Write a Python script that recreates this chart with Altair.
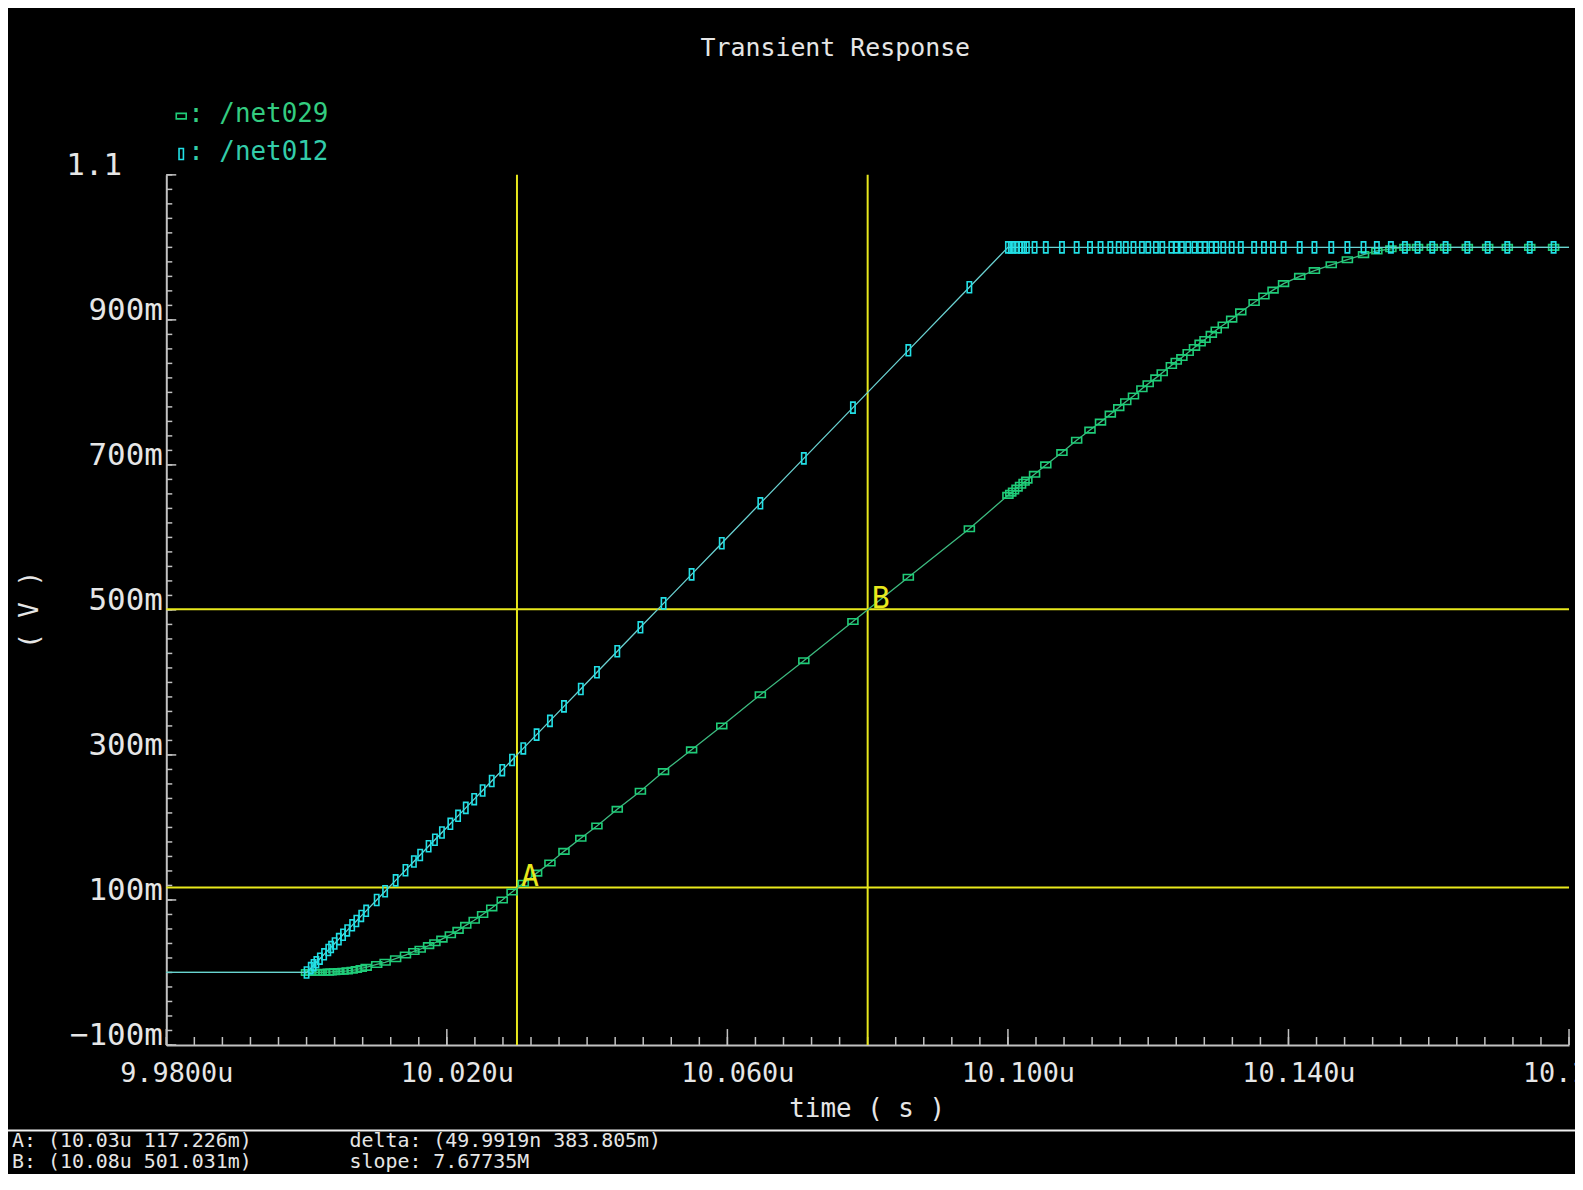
import altair as alt
import pandas as pd

# ---------------- data (time in microseconds, voltages in volts) ----------------
time_us = [
    9.98,
    10.0, 10.0006, 10.001, 10.0014, 10.0019, 10.0025, 10.0031, 10.0035, 10.004, 10.0046,
    10.0052, 10.0058, 10.0065, 10.0071, 10.0078, 10.0085, 10.01, 10.0112, 10.0127, 10.0141,
    10.0153, 10.0162, 10.0174, 10.0183, 10.0193, 10.0205, 10.0216, 10.0227, 10.0239, 10.0251,
    10.0264, 10.0279, 10.0293, 10.0309, 10.0328, 10.0347, 10.0367, 10.0391, 10.0414, 10.0443,
    10.0476, 10.0509, 10.0549, 10.0592, 10.0647, 10.0709, 10.0779, 10.0858, 10.0945, 10.1,
    10.1004, 10.1008, 10.1013, 10.1018, 10.1023, 10.1027, 10.1038, 10.1054, 10.1077, 10.1098,
    10.1117, 10.1132, 10.1146, 10.1158, 10.1168, 10.1179, 10.1191, 10.12, 10.1211, 10.122,
    10.1233, 10.124, 10.1248, 10.1257, 10.1266, 10.1274, 10.1281, 10.129, 10.1297, 10.1307,
    10.1319, 10.1332, 10.1351, 10.1365, 10.1378, 10.1393, 10.1416, 10.1437, 10.1461, 10.1484,
    10.1507, 10.1526, 10.1546, 10.1566, 10.1584, 10.1605, 10.1624, 10.1655, 10.1684, 10.1712,
    10.1744, 10.1778, 10.18,
]

net012 = [
    0.0,
    0.0, 0.006, 0.010, 0.014, 0.019, 0.025, 0.031, 0.035, 0.040, 0.046,
    0.052, 0.058, 0.065, 0.071, 0.078, 0.085, 0.100, 0.112, 0.127, 0.141,
    0.153, 0.162, 0.174, 0.183, 0.193, 0.205, 0.216, 0.227, 0.239, 0.251,
    0.264, 0.279, 0.293, 0.309, 0.328, 0.347, 0.367, 0.391, 0.414, 0.443,
    0.476, 0.509, 0.549, 0.592, 0.647, 0.709, 0.779, 0.858, 0.945, 1.0,
    1.0, 1.0, 1.0, 1.0, 1.0, 1.0, 1.0, 1.0, 1.0, 1.0,
    1.0, 1.0, 1.0, 1.0, 1.0, 1.0, 1.0, 1.0, 1.0, 1.0,
    1.0, 1.0, 1.0, 1.0, 1.0, 1.0, 1.0, 1.0, 1.0, 1.0,
    1.0, 1.0, 1.0, 1.0, 1.0, 1.0, 1.0, 1.0, 1.0, 1.0,
    1.0, 1.0, 1.0, 1.0, 1.0, 1.0, 1.0, 1.0, 1.0, 1.0,
    1.0, 1.0, 1.0,
]

net029 = [
    0.0,
    0.0, 0.0, 0.0, 0.0, 0.0, 0.0002, 0.0005, 0.0007, 0.001, 0.0013,
    0.0017, 0.0022, 0.003, 0.004, 0.0055, 0.007, 0.011, 0.014, 0.019, 0.024,
    0.029, 0.032, 0.037, 0.041, 0.046, 0.052, 0.058, 0.065, 0.072, 0.080,
    0.089, 0.100, 0.111, 0.123, 0.137, 0.151, 0.167, 0.185, 0.202, 0.225,
    0.250, 0.277, 0.307, 0.340, 0.383, 0.430, 0.484, 0.545, 0.612, 0.658,
    0.661, 0.664, 0.668, 0.672, 0.676, 0.679, 0.687, 0.700, 0.717, 0.734,
    0.748, 0.759, 0.770, 0.779, 0.787, 0.795, 0.805, 0.812, 0.820, 0.827,
    0.837, 0.843, 0.848, 0.855, 0.862, 0.868, 0.873, 0.880, 0.886, 0.893,
    0.901, 0.911, 0.924, 0.933, 0.941, 0.950, 0.960, 0.968, 0.976, 0.983,
    0.990, 0.995, 0.998, 1.0, 1.0, 1.0, 1.0, 1.0, 1.0, 1.0,
    1.0, 1.0, 1.0,
]

x_major = [9.98, 10.02, 10.06, 10.10, 10.14, 10.18]
y_major = [-0.1, 0.1, 0.3, 0.5, 0.7, 0.9, 1.1]
x_minor = [round(9.98 + 0.004 * i, 4) for i in range(51)]
y_minor = [round(-0.1 + 0.02 * i, 3) for i in range(61)]

cursor_time = [10.03, 10.08]
cursor_value = [0.117226, 0.501031]
cursor_name = ["A", "B"]

title_text = "Transient Response"
x_title = "time ( s )"
y_title = "( V )"
legend_names = [": /net029", ": /net012"]
info_left = ["A: (10.03u 117.226m)", "B: (10.08u 501.031m)"]
info_right = ["delta: (49.9919n 383.805m)", "slope: 7.67735M"]

# ---------------- styling ----------------
FONT = "DejaVu Sans Mono"
BG = "#000000"
TXT = "#e6e6e6"
AXC = "#c2c2c2"
GREEN_MK = "#1fcc78"
GREEN_LN = "#3dbb80"
CYAN_MK = "#22e0e6"
CYAN_LN = "#6ad2d2"
YEL = "#e8e81c"
LEG_G = "#33cc80"
LEG_C = "#33ccaa"

PLOT_W = 1409
PLOT_H = 874
PAD = {"left": 159, "top": 165, "right": 6, "bottom": 127}

CYAN_SHAPE = "M-0.4,-1L0.4,-1L0.4,1L-0.4,1Z"
GREEN_SHAPE = "M-1,-0.55L1,-0.55L1,0.55L-1,0.55Z"

xs = alt.Scale(domain=[9.98, 10.18], nice=False, zero=False)
ys = alt.Scale(domain=[-0.1, 1.1], nice=False, zero=False)

xaxis = alt.Axis(
    values=x_major,
    labelExpr="datum.value < 10 ? format(datum.value, '.4f') + 'u' : format(datum.value, '.3f') + 'u'",
    labelFont=FONT, labelFontSize=27, labelColor=TXT,
    labelBaseline="alphabetic", labelAlign="center",
    labelPadding=37, labelOffset=10,
    labelFlush=False, labelOverlap=False, labelBound=False,
    ticks=False, tickSize=0, grid=False,
    domainColor=AXC, domainWidth=2, title=None,
)
yaxis = alt.Axis(
    values=y_major,
    labelExpr="datum.value > 1.05 ? '1.1' : (datum.value < 0 ? '\u2212' + format(round(abs(datum.value) * 1000), 'd') + 'm' : format(round(datum.value * 1000), 'd') + 'm')",
    labelFont=FONT, labelFontSize=31, labelColor=TXT,
    labelBaseline="alphabetic", labelAlign="right",
    labelPadding={"condition": {"test": "datum.value > 1.05", "value": 45}, "value": 4},
    labelFlush=False, labelOverlap=False, labelBound=False,
    ticks=False, tickSize=0, grid=False,
    domainColor=AXC, domainWidth=2, title=None,
)

df = pd.DataFrame({"time": time_us, "net012": net012, "net029": net029})
base = alt.Chart(df)
X = alt.X("time:Q", scale=xs, axis=xaxis)

green_line = base.mark_line(color=GREEN_LN, strokeWidth=1.3).encode(
    x=X, y=alt.Y("net029:Q", scale=ys, axis=yaxis))
green_pts = base.transform_filter("datum.time >= 10 && datum.time < 10.179").mark_point(
    shape=GREEN_SHAPE, size=100, filled=False, color=GREEN_MK, strokeWidth=1.6, opacity=1
).encode(x=X, y=alt.Y("net029:Q", scale=ys, axis=yaxis))
cyan_line = base.mark_line(color=CYAN_LN, strokeWidth=1.3).encode(
    x=X, y=alt.Y("net012:Q", scale=ys, axis=yaxis))
cyan_pts = base.transform_filter("datum.time >= 10 && datum.time < 10.179").mark_point(
    shape=CYAN_SHAPE, size=121, filled=False, color=CYAN_MK, strokeWidth=1.6, opacity=1
).encode(x=X, y=alt.Y("net012:Q", scale=ys, axis=yaxis))

# inward ticks
xmaj_df = pd.DataFrame({"t": x_major})
xmin_df = pd.DataFrame({"t": x_minor})
ymaj_df = pd.DataFrame({"v": y_major})
ymin_df = pd.DataFrame({"v": y_minor})
XT = alt.X("t:Q", scale=xs, axis=xaxis)
YV = alt.Y("v:Q", scale=ys, axis=yaxis)
xt_min = alt.Chart(xmin_df).mark_rule(color=AXC, strokeWidth=1.5).encode(
    x=XT, y=alt.value(PLOT_H), y2=alt.value(PLOT_H - 8))
xt_maj = alt.Chart(xmaj_df).mark_rule(color=AXC, strokeWidth=1.5).encode(
    x=XT, y=alt.value(PLOT_H), y2=alt.value(PLOT_H - 16))
yt_min = alt.Chart(ymin_df).mark_rule(color=AXC, strokeWidth=1.5).encode(
    y=YV, x=alt.value(0), x2=alt.value(6))
yt_maj = alt.Chart(ymaj_df).mark_rule(color=AXC, strokeWidth=1.5).encode(
    y=YV, x=alt.value(0), x2=alt.value(10))

# cursors
cur_df = pd.DataFrame({"time": cursor_time, "v": cursor_value, "name": cursor_name})
cur_v = alt.Chart(cur_df).mark_rule(color=YEL, strokeWidth=2).encode(x=X)
cur_h = alt.Chart(cur_df).mark_rule(color=YEL, strokeWidth=2).encode(y=YV)
cur_t = alt.Chart(cur_df).mark_text(
    color=YEL, font=FONT, fontSize=30, align="left", baseline="alphabetic", dx=4, dy=-1
).encode(x=X, y=YV, text="name:N")


def label(text, x, y, size, color=TXT, align="left", baseline="alphabetic", angle=0):
    mk = dict(color=color, font=FONT, fontSize=size, align=align, baseline=baseline)
    if angle:
        mk["angle"] = angle
    return alt.Chart(pd.DataFrame({"s": [text]})).mark_text(**mk).encode(
        x=alt.value(x), y=alt.value(y), text="s:N")


def marker(shape, size, color, x, y):
    return alt.Chart(pd.DataFrame({"s": [0]})).mark_point(
        shape=shape, size=size, filled=False, color=color, strokeWidth=1.6, opacity=1
    ).encode(x=alt.value(x), y=alt.value(y))


annotations = [
    label(title_text, 672, -119, 25, align="center"),
    marker(GREEN_SHAPE, 100, GREEN_MK, 15, -59),
    label(legend_names[0], 22, -53, 26, color=LEG_G),
    marker(CYAN_SHAPE, 121, CYAN_MK, 15, -21),
    label(legend_names[1], 22, -15, 26, color=LEG_C),
    label(y_title, -137, 437, 26, align="center", baseline="middle", angle=270),
    label(x_title, 704, 946, 26, align="center"),
    label(info_left[0], -155, 976, 20),
    label(info_left[1], -155, 998, 20),
    label(info_right[0], 184, 976, 20),
    label(info_right[1], 184, 998, 20),
]

sep = alt.Chart(pd.DataFrame({"s": [0]})).mark_rule(color="#f0f0f0", strokeWidth=2).encode(
    x=alt.value(-PAD["left"]), x2=alt.value(PLOT_W + PAD["right"]), y=alt.value(960))

chart = alt.layer(
    xt_min, xt_maj, yt_min, yt_maj,
    cur_v, cur_h,
    green_line, green_pts, cyan_line, cyan_pts,
    cur_t, sep, *annotations,
).properties(
    width=PLOT_W, height=PLOT_H,
    autosize=alt.AutoSizeParams(type="none"),
    padding=PAD,
    background=BG,
).configure_view(stroke=None, fill=BG)

chart.save("out.html", embed_options={"renderer": "svg", "actions": False})
